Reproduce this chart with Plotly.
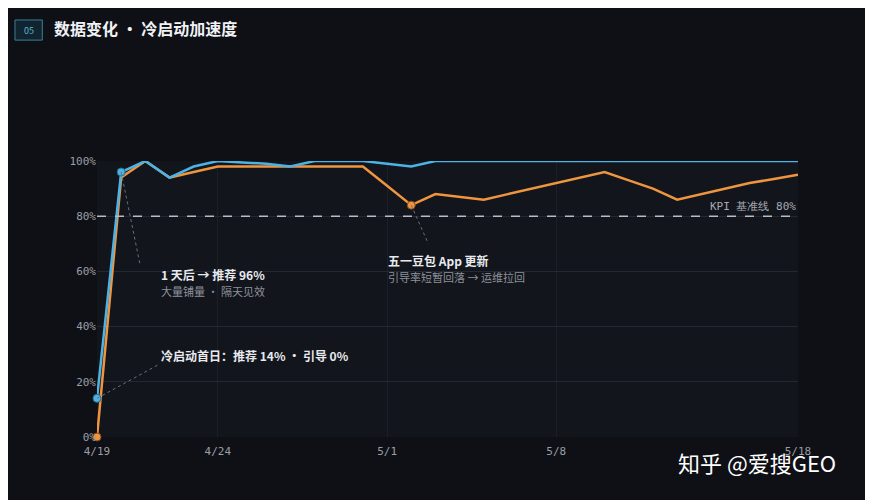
import pandas as pd
import plotly.graph_objects as go

dates = pd.date_range("2024-04-19", periods=30, freq="D")
recommend = [14, 96, 100, 94, 98, 100, 99.5, 99, 98, 100, 100, 100, 99, 98, 100,
             100, 100, 100, 100, 100, 100, 100, 100, 100, 100, 100, 100, 100, 100, 100]
guide = [0, 94, 100, 94, 96, 98, 98, 98, 98, 98, 98, 98, 91, 84, 88,
         87, 86, 88, 90, 92, 94, 96, 93, 90, 86, 88, 90, 92, 93.5, 95]
tick_dates = ["2024-04-19", "2024-04-24", "2024-05-01", "2024-05-08", "2024-05-18"]
tick_text = ["4/19", "4/24", "5/1", "5/8", "5/18"]
y_ticks = [0, 20, 40, 60, 80, 100]
kpi = 80

BLUE = "#4bb3e6"
ORANGE = "#f0953f"
FONT = "Noto Sans CJK SC"

fig = go.Figure()
fig.add_trace(go.Scatter(x=dates, y=guide, mode="lines", line=dict(color=ORANGE, width=2.5),
                         cliponaxis=False, hoverinfo="skip"))
fig.add_trace(go.Scatter(x=dates, y=recommend, mode="lines", line=dict(color=BLUE, width=2.5),
                         cliponaxis=False, hoverinfo="skip"))
# highlighted points
fig.add_trace(go.Scatter(x=[dates[0], dates[13]], y=[guide[0], guide[13]], mode="markers",
                         marker=dict(color=ORANGE, size=8, line=dict(color="#7a4a20", width=1)),
                         cliponaxis=False, hoverinfo="skip"))
fig.add_trace(go.Scatter(x=[dates[0], dates[1]], y=[recommend[0], recommend[1]], mode="markers",
                         marker=dict(color=BLUE, size=8, line=dict(color="#2a6a8a", width=1)),
                         cliponaxis=False, hoverinfo="skip"))

fig.add_hline(y=kpi, line=dict(color="#b8bcc4", width=1.5, dash="dash"))

shapes = [
    # card
    dict(type="rect", xref="paper", yref="paper", x0=-0.117, x1=1.086, y0=-0.25, y1=1.221,
         line=dict(color="#2a2e38", width=1), fillcolor="rgba(0,0,0,0)", layer="above"),
    # badge
    dict(type="rect", xref="paper", yref="paper", x0=-0.117, x1=-0.078, y0=1.438, y1=1.511,
         line=dict(color="#3a7f99", width=1), fillcolor="#102530"),
    # leaders
    dict(type="line", x0=dates[1], y0=96, x1="2024-04-20 19:00", y1=62,
         line=dict(color="#6a6e78", width=1, dash="dot")),
    dict(type="line", x0=dates[0], y0=14, x1="2024-04-21 12:00", y1=26,
         line=dict(color="#6a6e78", width=1, dash="dot")),
    dict(type="line", x0=dates[13], y0=84, x1="2024-05-02 17:00", y1=70,
         line=dict(color="#6a6e78", width=1, dash="dot")),
]

ann = []
def note(x, y, text, size, color, bold=False, xanchor="left"):
    ann.append(dict(x=x, y=y, text=f"<b>{text}</b>" if bold else text, showarrow=False,
                    xanchor=xanchor, yanchor="middle", font=dict(size=size, color=color, family=FONT)))

note("2024-04-21 14:00", 59, "1 天后 → 推荐 96%", 12, "#e8eaee", True)
note("2024-04-21 14:00", 53, "大量铺量 · 隔天见效", 11, "#8d919a")
note("2024-04-21 14:00", 29.5, "冷启动首日：推荐 14% · 引导 0%", 12, "#e8eaee", True)
note("2024-04-30 23:00", 64, "五一豆包 App 更新", 12, "#e8eaee", True)
note("2024-04-30 23:00", 58, "引导率短暂回落 → 运维拉回", 11, "#8d919a")
ann.append(dict(x=dates[-1], y=83.5, text="KPI 基准线 80%", showarrow=False, xanchor="right",
                font=dict(size=11, color="#a6aab2", family="DejaVu Sans Mono")))
ann.append(dict(xref="paper", yref="paper", x=-0.064, y=1.482, text="<b>数据变化 · 冷启动加速度</b>",
                showarrow=False, xanchor="left", yanchor="middle",
                font=dict(size=16, color="#f0f2f5", family=FONT)))
ann.append(dict(xref="paper", yref="paper", x=-0.0975, y=1.474, text="05", showarrow=False,
                xanchor="center", yanchor="middle", font=dict(size=9, color="#5fb3d0", family=FONT)))
ann.append(dict(xref="paper", yref="paper", x=0.942, y=-0.09, text="知乎 @爱搜GEO", showarrow=False,
                xanchor="center", yanchor="middle", font=dict(size=22, color="#ffffff", family=FONT)))

fig.update_layout(
    width=873, height=500,
    margin=dict(l=89, r=83, t=153, b=71),
    paper_bgcolor="#0e1016", plot_bgcolor="#12151c",
    showlegend=False,
    shapes=shapes, annotations=ann,
    font=dict(family=FONT, color="#9a9ea6"),
    xaxis=dict(type="date", range=[dates[0], dates[-1]], tickvals=tick_dates, ticktext=tick_text,
               showgrid=True, gridcolor="#1b1f27", zeroline=False, showline=False,
               ticklabelstandoff=6,
               tickfont=dict(size=11, color="#9a9ea6", family="DejaVu Sans Mono"), ticks=""),
    yaxis=dict(range=[0, 100], tickvals=y_ticks, ticktext=[f"{v}%" for v in y_ticks],
               showgrid=True, gridcolor="#242832", zeroline=False,
               tickfont=dict(size=11, color="#9a9ea6", family="DejaVu Sans Mono"), ticks=""),
)

fig.write_html("out.html")
